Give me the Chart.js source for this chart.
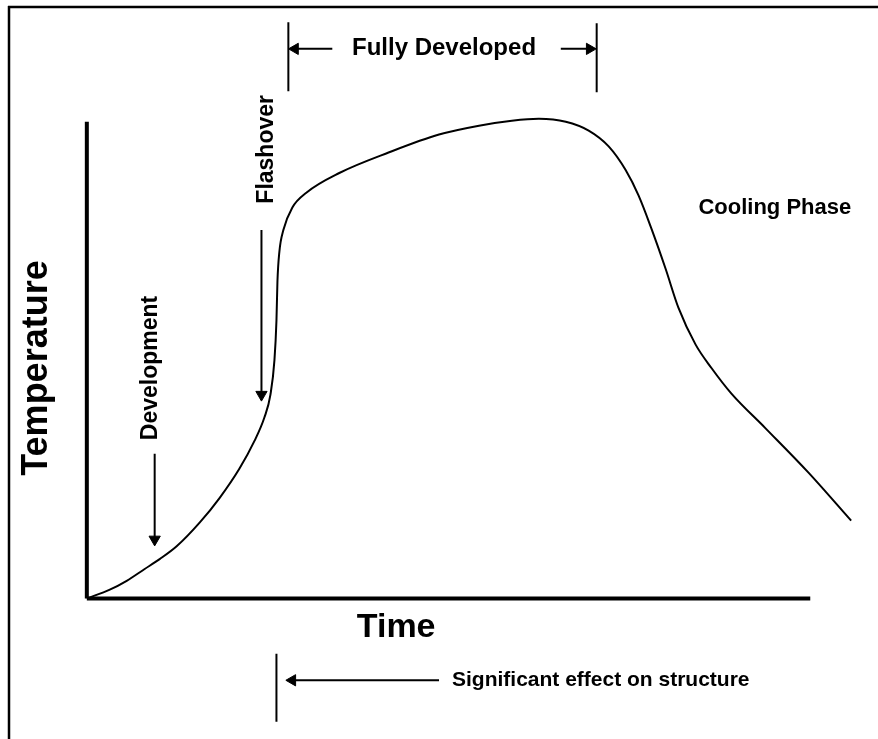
<!DOCTYPE html>
<html>
<head>
<meta charset="utf-8">
<script src="https://cdn.jsdelivr.net/npm/chart.js@4.4.1/dist/chart.umd.min.js"></script>
<style>
  html, body { margin: 0; padding: 0; background: #fff; }
  canvas { display: block; }
</style>
</head>
<body>
<canvas id="fireChart" width="878" height="739"></canvas>
<script>
// fire curve, time vs temperature (arbitrary units, 0..100)
const time = [0, 2.99, 5.19, 7.53, 9.48, 11.69, 14.68, 17.27, 19.87, 21.82, 23.12, 23.9, 24.42, 24.68, 24.81, 25.06, 25.58, 26.75, 28.57, 32.86, 39.35, 45.84, 51.04, 55.32, 58.83, 62.34, 65.32, 67.92, 70.13, 71.82, 73.51, 75.32, 77.01, 79.22, 81.3, 83.9, 88.31, 93.9, 99.48];
const temperature = [0, 1.8, 3.6, 6, 8, 10.6, 15.4, 20.4, 26.4, 32, 36.8, 41.4, 48.4, 56.4, 64.4, 70.4, 74.8, 79.4, 82.4, 86.4, 90.6, 94.2, 96, 97, 97.4, 96.8, 95, 91.8, 87, 81.8, 75, 67, 59, 51.6, 46.8, 41.6, 34.6, 25.6, 15.8];

// axis extents
const xAxisEnd = 94.16;
const yAxisTop = 96.8;

// arrows: [fromX, fromY, toX, toY, head rotation]
const arrows = [
    [8.83, 29.4, 8.83, 12, 180],        // development
    [22.73, 74.8, 22.73, 41.4, 180],    // flashover
    [31.95, 111.6, 27.1, 111.6, 270],   // fully developed, left
    [61.69, 111.6, 65.45, 111.6, 90],   // fully developed, right
    [45.84, -16.6, 26.75, -16.6, 270]   // significant effect
];

// plain bars: [x, y1, y2]
const ticks = [
    [26.23, 117, 103],
    [66.36, 116.8, 102.8],
    [24.68, -11.2, -25]
];

// text: [text, x, y, size, rotated, align]
const labels = [
    ["Temperature", -6.49, 46.8, 36, true, "center"],
    ["Time", 40.26, -6, 34, false, "center"],
    ["Fully Developed", 46.49, 111.6, 24, false, "center"],
    ["Cooling Phase", 79.6, 79.4, 22, false, "left"],
    ["Significant effect on structure", 47.53, -16.6, 21, false, "left"],
    ["Flashover", 23.38, 91.2, 23, true, "center"],
    ["Development", 8.31, 46.8, 23, true, "center"]
];

const FONT = '"Liberation Sans", Arial, Helvetica, sans-serif';

const datasets = [];

datasets.push({
    data: time.map((t, i) => ({ x: t, y: temperature[i] })),
    borderColor: "#000",
    borderWidth: 2,
    pointRadius: 0,
    cubicInterpolationMode: "monotone",
    fill: false
});

// axes
datasets.push({
    data: [{ x: 0, y: 0 }, { x: xAxisEnd, y: 0 }],
    borderColor: "#000",
    borderWidth: 4,
    pointRadius: 0
});
datasets.push({
    data: [{ x: 0, y: 0 }, { x: 0, y: yAxisTop }],
    borderColor: "#000",
    borderWidth: 4,
    pointRadius: 0
});

arrows.forEach(a => {
    datasets.push({
        data: [{ x: a[0], y: a[1] }, { x: a[2], y: a[3] }],
        borderColor: "#000",
        borderWidth: 2,
        pointStyle: "triangle",
        pointRadius: [0, 6.5],
        pointRotation: [0, a[4]],
        pointBackgroundColor: "#000",
        pointBorderColor: "#000",
        pointBorderWidth: 1
    });
});

ticks.forEach(b => {
    datasets.push({
        data: [{ x: b[0], y: b[1] }, { x: b[0], y: b[2] }],
        borderColor: "#000",
        borderWidth: 2,
        pointRadius: 0
    });
});

const framePlugin = {
    id: "frame",
    beforeDraw(chart) {
        const c = chart.ctx;
        c.save();
        c.fillStyle = "#fff";
        c.fillRect(0, 0, chart.width, chart.height);
        c.strokeStyle = "#000";
        c.lineWidth = 2.5;
        c.beginPath();
        c.moveTo(8, 7);
        c.lineTo(chart.width, 7);
        c.moveTo(9, 6);
        c.lineTo(9, chart.height);
        c.stroke();
        c.restore();
    }
};

const labelPlugin = {
    id: "labels",
    afterDatasetsDraw(chart) {
        const c = chart.ctx;
        const xs = chart.scales.x, ys = chart.scales.y;
        c.save();
        c.fillStyle = "#000";
        labels.forEach(l => {
            const px = xs.getPixelForValue(l[1]);
            const py = ys.getPixelForValue(l[2]);
            c.save();
            c.translate(px, py);
            if (l[4]) c.rotate(-Math.PI / 2);
            c.font = "bold " + l[3] + "px " + FONT;
            c.textAlign = l[5];
            c.textBaseline = "middle";
            c.fillText(l[0], 0, 0);
            c.restore();
        });
        c.restore();
    }
};

const ctx = document.getElementById("fireChart").getContext("2d");

const fireChart = new Chart(ctx, {
    type: "line",
    data: { datasets: datasets },
    options: {
        responsive: false,
        animation: false,
        layout: {
            padding: { left: 10, right: 5.6, top: 2, bottom: 2 }
        },
        plugins: {
            legend: { display: false },
            tooltip: { enabled: false }
        },
        scales: {
            x: { type: "linear", display: false, min: -10, max: 102 },
            y: { type: "linear", display: false, min: -27, max: 120 }
        }
    },
    plugins: [framePlugin, labelPlugin]
});
</script>
</body>
</html>
